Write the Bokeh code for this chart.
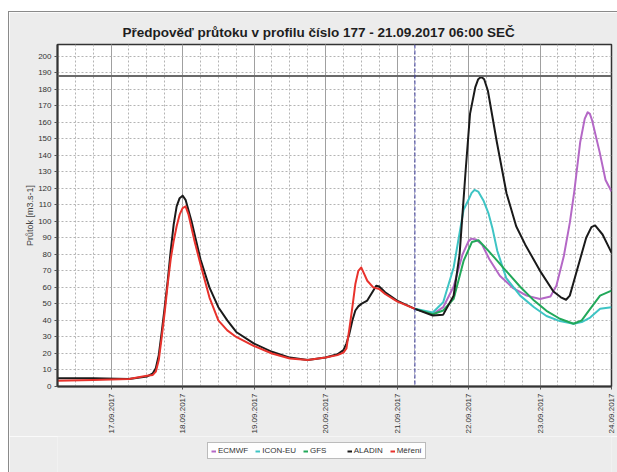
import math
import pandas as pd
from bokeh.plotting import figure
from bokeh.layouts import column
from bokeh.models import (FixedTicker, Span, Legend, LegendItem,
                          DatetimeTickFormatter, Range1d)
from bokeh.embed import file_html
from bokeh.resources import INLINE

# ---------------- data ----------------
title_text = "Předpověď průtoku v profilu číslo  177 - 21.09.2017 06:00 SEČ"
y_label = "Průtok [m3.s-1]"
forecast_time = "2017-09-21 06:00"
threshold = 188

aladin_t = ["2017-09-16 06:00", "2017-09-16 18:00", "2017-09-17 06:00", "2017-09-17 12:00",
            "2017-09-17 14:00", "2017-09-17 15:00", "2017-09-17 16:00", "2017-09-17 17:00",
            "2017-09-17 18:00", "2017-09-17 19:00", "2017-09-17 20:00", "2017-09-17 21:00",
            "2017-09-17 22:00", "2017-09-17 23:00", "2017-09-18 00:00", "2017-09-18 01:00",
            "2017-09-18 03:00", "2017-09-18 06:00", "2017-09-18 09:00", "2017-09-18 12:00",
            "2017-09-18 15:00", "2017-09-18 18:00", "2017-09-19 00:00", "2017-09-19 06:00",
            "2017-09-19 12:00", "2017-09-19 18:00", "2017-09-20 00:00", "2017-09-20 04:00",
            "2017-09-20 06:00", "2017-09-20 07:00", "2017-09-20 08:00", "2017-09-20 09:00",
            "2017-09-20 10:00", "2017-09-20 11:00", "2017-09-20 12:00", "2017-09-20 14:00",
            "2017-09-20 16:00", "2017-09-20 17:00", "2017-09-20 18:00", "2017-09-20 20:00",
            "2017-09-21 00:00", "2017-09-21 06:00",
            "2017-09-21 12:00", "2017-09-21 15:30", "2017-09-21 19:00", "2017-09-21 21:00",
            "2017-09-21 23:00", "2017-09-22 00:30", "2017-09-22 02:15", "2017-09-22 03:15",
            "2017-09-22 04:15", "2017-09-22 05:15", "2017-09-22 06:30", "2017-09-22 09:30",
            "2017-09-22 12:45", "2017-09-22 16:00", "2017-09-22 19:00", "2017-09-23 00:00",
            "2017-09-23 04:30", "2017-09-23 07:00", "2017-09-23 08:45", "2017-09-23 10:00",
            "2017-09-23 11:15", "2017-09-23 15:30", "2017-09-23 17:15", "2017-09-23 18:30",
            "2017-09-23 21:00", "2017-09-24 00:00"]
aladin_v = [5, 5, 4.5, 6,
            8, 11, 19, 33,
            48, 64, 82, 98,
            109, 114, 115.5, 113,
            100, 77, 60, 48,
            40, 33, 26, 21,
            17.5, 16, 17.5, 19.5,
            22, 26, 32, 40,
            46, 48.5, 50, 52,
            58, 61, 60.5, 57,
            52, 47,
            43, 43.5, 55, 80,
            130, 165, 181, 186,
            187.5, 186, 179, 148,
            117, 97, 86, 70,
            57.5, 54, 52.5, 55,
            63, 90, 96.5, 97.5,
            92, 81]

mereni_t = ["2017-09-16 06:00", "2017-09-16 18:00", "2017-09-17 06:00", "2017-09-17 12:00",
            "2017-09-17 14:00", "2017-09-17 15:00", "2017-09-17 16:00", "2017-09-17 17:00",
            "2017-09-17 18:00", "2017-09-17 19:00", "2017-09-17 20:00", "2017-09-17 21:00",
            "2017-09-17 22:00", "2017-09-17 23:00", "2017-09-18 00:00", "2017-09-18 01:00",
            "2017-09-18 02:00", "2017-09-18 04:00", "2017-09-18 06:00", "2017-09-18 09:00",
            "2017-09-18 12:00", "2017-09-18 15:00", "2017-09-18 18:00", "2017-09-19 00:00",
            "2017-09-19 06:00", "2017-09-19 12:00", "2017-09-19 18:00", "2017-09-20 00:00",
            "2017-09-20 04:00", "2017-09-20 06:00", "2017-09-20 07:00", "2017-09-20 08:00",
            "2017-09-20 09:00", "2017-09-20 10:00", "2017-09-20 11:00", "2017-09-20 12:00",
            "2017-09-20 13:00", "2017-09-20 14:00", "2017-09-20 16:00", "2017-09-20 18:00",
            "2017-09-20 20:00", "2017-09-21 00:00", "2017-09-21 06:00"]
mereni_v = [3.5, 4, 4.5, 6.5,
            7, 9, 16, 30,
            45, 62, 77, 88,
            97, 104, 108, 109,
            104, 88, 74, 54,
            40, 34, 30, 24.5,
            20, 17, 16, 17.5,
            19, 20.5, 23, 35,
            48, 62, 70, 72,
            68, 64, 60, 59,
            56, 51.5, 47]

ecmwf_t = ["2017-09-21 06:00", "2017-09-21 12:00", "2017-09-21 15:30", "2017-09-21 19:00",
           "2017-09-21 22:00", "2017-09-22 00:00", "2017-09-22 01:00", "2017-09-22 02:30",
           "2017-09-22 04:30", "2017-09-22 07:00", "2017-09-22 10:30", "2017-09-22 15:00",
           "2017-09-22 19:30", "2017-09-23 00:00", "2017-09-23 03:30", "2017-09-23 05:30",
           "2017-09-23 08:00", "2017-09-23 10:00", "2017-09-23 11:30", "2017-09-23 13:30",
           "2017-09-23 15:00", "2017-09-23 16:00", "2017-09-23 16:45", "2017-09-23 17:30",
           "2017-09-23 20:00", "2017-09-23 22:00", "2017-09-24 00:00"]
ecmwf_v = [47, 43.7, 48, 60.5,
           80, 88, 89.5, 89,
           86, 77, 67, 59.5,
           55, 53, 54.5, 61,
           79, 99, 118, 148,
           162, 166, 165, 161,
           142, 125, 118]

icon_t = ["2017-09-21 06:00", "2017-09-21 12:00", "2017-09-21 15:30", "2017-09-21 19:00",
          "2017-09-21 22:20", "2017-09-22 00:00", "2017-09-22 01:00", "2017-09-22 02:00",
          "2017-09-22 03:15", "2017-09-22 05:00", "2017-09-22 06:40", "2017-09-22 08:00",
          "2017-09-22 09:40", "2017-09-22 12:40", "2017-09-22 17:20", "2017-09-22 22:00",
          "2017-09-23 02:10", "2017-09-23 06:40", "2017-09-23 11:15", "2017-09-23 14:00",
          "2017-09-23 16:50", "2017-09-23 20:10", "2017-09-24 00:00"]
icon_v = [47, 44.8, 51, 72,
          107, 113, 117, 119,
          118, 112.6, 105, 96,
          82, 65.6, 55, 48,
          42.7, 39.6, 38, 39,
          41.7, 47, 48]

gfs_t = ["2017-09-21 06:00", "2017-09-21 12:00", "2017-09-21 15:30", "2017-09-21 19:00",
         "2017-09-21 22:20", "2017-09-22 01:10", "2017-09-22 03:20", "2017-09-22 06:15",
         "2017-09-22 09:40", "2017-09-22 12:40", "2017-09-22 17:20", "2017-09-22 22:00",
         "2017-09-23 02:10", "2017-09-23 06:40", "2017-09-23 11:15", "2017-09-23 14:00",
         "2017-09-23 16:50", "2017-09-23 20:10", "2017-09-24 00:00"]
gfs_v = [47, 43.7, 46, 53,
         76, 87.5, 88.5, 83,
         76, 69.8, 60.4, 52,
         45.8, 41, 38, 40,
         47, 55, 58]

series_names = ["ECMWF", "ICON-EU", "GFS", "ALADIN", "Měření"]
day_ticks = ["2017-09-17", "2017-09-18", "2017-09-19", "2017-09-20",
             "2017-09-21", "2017-09-22", "2017-09-23", "2017-09-24"]
y_ticks = list(range(0, 201, 10))
x_start, x_end = "2017-09-16 06:00", "2017-09-24 00:00"
y_max = 207

# ---------------- helpers ----------------
def ms(t):
    return pd.Timestamp(t).value / 1e6

def dt(lst):
    return pd.to_datetime(lst)

FONT = "Liberation Sans"
BG = "#ececec"
COLORS = ["#b468c6", "#3ec4c4", "#22a85a", "#1a1a1a", "#e8322c"]

p = figure(width=608, height=424, x_axis_type="datetime",
           x_range=Range1d(ms(x_start), ms(x_end)), y_range=Range1d(0, y_max),
           output_backend="svg", toolbar_location=None, title=title_text,
           min_border_left=48, min_border_right=6, min_border_top=32,
           min_border_bottom=50)

p.title.text_font = FONT
p.title.text_font_size = "13.5px"
p.title.text_font_style = "bold"
p.title.text_color = "#1e1e1e"
p.title.align = "left"
p.title.offset = 65
p.title.standoff = 10

p.border_fill_color = BG
p.background_fill_color = "white"
p.outline_line_color = "#333333"
p.outline_line_width = 1.5

# ticks
minor = pd.date_range(x_start, x_end, freq="6h")
p.xaxis.ticker = FixedTicker(ticks=[ms(t) for t in day_ticks],
                             minor_ticks=[ms(t) for t in minor])
fmt = "%d.%m.%Y"
p.xaxis.formatter = DatetimeTickFormatter(days=fmt, hours=fmt, hourmin=fmt, minutes=fmt,
                                          minsec=fmt, seconds=fmt, months=fmt, years=fmt)
p.xaxis.major_label_orientation = math.pi / 2
p.yaxis.ticker = FixedTicker(ticks=y_ticks)

for ax in (p.xaxis, p.yaxis):
    ax.major_label_text_font = FONT
    ax.major_label_text_font_size = "8px"
    ax.major_label_text_color = "#333333"
    ax.axis_line_color = "#333333"
    ax.axis_line_width = 2
    ax.major_tick_line_color = "#555555"
    ax.minor_tick_line_color = None
    ax.major_tick_out = 3
    ax.major_tick_in = 0
    ax.major_label_standoff = 3

p.yaxis.axis_label = y_label
p.yaxis.axis_label_text_font = FONT
p.yaxis.axis_label_text_font_size = "9px"
p.yaxis.axis_label_text_font_style = "normal"
p.yaxis.axis_label_text_color = "#444444"
p.yaxis.axis_label_standoff = 0

# grids
p.xgrid.grid_line_color = "#a0a0a0"
p.xgrid.grid_line_width = 1
p.xgrid.minor_grid_line_color = "#b4b4b4"
p.xgrid.minor_grid_line_dash = "2 2"
p.ygrid.grid_line_color = "#b4b4b4"
p.ygrid.grid_line_dash = "2 2"

# reference lines
p.add_layout(Span(location=threshold, dimension="width", line_color="#6a6a6a", line_width=2))
p.add_layout(Span(location=ms(forecast_time), dimension="height", line_color="#3a3a9a",
                  line_width=1, line_dash="4 2"))

# series
series = [(ecmwf_t, ecmwf_v), (icon_t, icon_v), (gfs_t, gfs_v),
          (aladin_t, aladin_v), (mereni_t, mereni_v)]
for (t, v), c in zip(series, COLORS):
    p.line(dt(t), v, line_color=c, line_width=2, line_join="round")

# legend strip below the chart (proxy renderers with no visible points)
pl = figure(width=608, height=36, output_backend="svg", toolbar_location=None,
            x_range=Range1d(0, 1), y_range=Range1d(0, 1), min_border=0)
pl.axis.visible = False
pl.grid.visible = False
pl.outline_line_color = None
pl.border_fill_color = BG
pl.background_fill_color = BG
items = []
nan = float("nan")
for name, c in zip(series_names, COLORS):
    r = pl.line([nan, nan], [nan, nan], line_color=c, line_width=2)
    label = name + "      " if name == "GFS" else name
    items.append(LegendItem(label=label, renderers=[r]))
leg = Legend(items=items, orientation="horizontal", location=(150, 13),
             label_text_font=FONT, label_text_font_size="8px",
             label_text_color="#333333",
             glyph_width=5, glyph_height=8, label_standoff=2, spacing=7,
             padding=3, margin=0, border_line_color="#777777", border_line_width=1.5,
             background_fill_color="white", label_height=8)
pl.add_layout(leg)

layout = column(p, pl, spacing=0,
                styles={"margin-left": "9px", "margin-top": "12px",
                        "outline": "1px solid #8a8a8a"})
open("out.html", "w").write(file_html(layout, INLINE))
